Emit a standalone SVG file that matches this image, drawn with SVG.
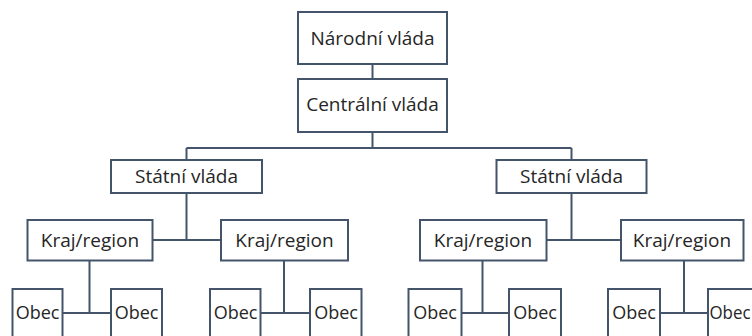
<svg xmlns="http://www.w3.org/2000/svg" width="752" height="336" viewBox="0 0 752 336">
<style>
.box{fill:#ffffff;stroke:#44546a;stroke-width:2}
.lbl{font-family:"Open Sans","Liberation Sans",sans-serif;font-size:19px;fill:#262626;text-anchor:middle}
.ob{font-size:18px}
.ln{fill:none;stroke:#44546a;stroke-width:2}
</style>
<rect width="752" height="336" fill="#ffffff"/>
<g id="connectors">
<path class="ln" d="M372.5,64 V79"/>
<path class="ln" d="M372.5,132 V148 M186.5,148 H571.5 M186.5,148 V160 M571.5,148 V160"/>
<path class="ln" d="M186.5,193 V240 M152.5,240 H221"/>
<path class="ln" d="M571.5,193 V240 M546.5,240 H621"/>
<path class="ln" d="M89.5,260.5 V313 M62.5,313 H111"/>
<path class="ln" d="M284,260.5 V313 M260.5,313 H310"/>
<path class="ln" d="M482.5,260.5 V313 M461.5,313 H509"/>
<path class="ln" d="M684,260.5 V313 M660,313 H708"/>
</g>
<g id="narodni"><rect class="box" x="298" y="12" width="149" height="52"/><text class="lbl" x="372.5" y="44.5">Národní vláda</text></g>
<g id="centralni"><rect class="box" x="298" y="79" width="149" height="53"/><text class="lbl" x="372.5" y="111">Centrální vláda</text></g>
<g id="statni1"><rect class="box" x="111" y="160" width="151" height="33"/><text class="lbl" x="186.5" y="182.5">Státní vláda</text></g>
<g id="statni2"><rect class="box" x="496.5" y="160" width="150" height="33"/><text class="lbl" x="571.5" y="182.5">Státní vláda</text></g>
<g id="kraj1"><rect class="box" x="27.5" y="220" width="125" height="40.5"/><text class="lbl" x="90" y="247">Kraj/region</text></g>
<g id="kraj2"><rect class="box" x="221" y="220" width="127" height="40.5"/><text class="lbl" x="284.5" y="247">Kraj/region</text></g>
<g id="kraj3"><rect class="box" x="420" y="220" width="126.5" height="40.5"/><text class="lbl" x="483" y="247">Kraj/region</text></g>
<g id="kraj4"><rect class="box" x="621" y="220" width="122.5" height="40.5"/><text class="lbl" x="682" y="247">Kraj/region</text></g>
<g id="obec1"><rect class="box" x="12.5" y="289" width="50" height="60"/><text class="lbl ob" x="37.5" y="318.5">Obec</text></g>
<g id="obec2"><rect class="box" x="111" y="289" width="51" height="60"/><text class="lbl ob" x="136.5" y="318.5">Obec</text></g>
<g id="obec3"><rect class="box" x="210" y="289" width="50.5" height="60"/><text class="lbl ob" x="235.5" y="318.5">Obec</text></g>
<g id="obec4"><rect class="box" x="310" y="289" width="51.5" height="60"/><text class="lbl ob" x="336" y="318.5">Obec</text></g>
<g id="obec5"><rect class="box" x="408.5" y="289" width="53" height="60"/><text class="lbl ob" x="435" y="318.5">Obec</text></g>
<g id="obec6"><rect class="box" x="509" y="289" width="52" height="60"/><text class="lbl ob" x="535" y="318.5">Obec</text></g>
<g id="obec7"><rect class="box" x="608" y="289" width="52" height="60"/><text class="lbl ob" x="634" y="318.5">Obec</text></g>
<g id="obec8"><rect class="box" x="708" y="289" width="52" height="60"/><text class="lbl ob" x="730" y="318.5" textLength="41" lengthAdjust="spacingAndGlyphs">Obec</text></g>
</svg>
